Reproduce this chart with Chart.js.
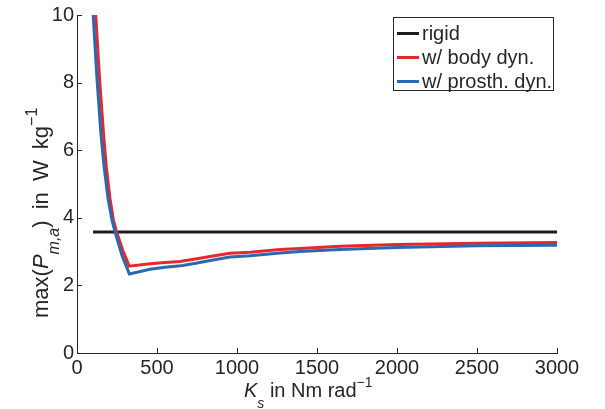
<!DOCTYPE html>
<html><head><meta charset="utf-8">
<script src="https://cdn.jsdelivr.net/npm/chart.js@4"></script>
<style>
html,body{margin:0;padding:0;background:#fff;}
#wrap{position:relative;width:605px;height:409px;overflow:hidden;font-family:'Liberation Sans',Arial,sans-serif;color:#262626;}
canvas{position:absolute;left:0;top:0;}
.t{position:absolute;white-space:nowrap;font-size:20px;line-height:20px;}
.sub,.sup{position:relative;font-size:14px;}
.legend{position:absolute;left:393px;top:17px;width:161px;height:74px;border:1px solid #262626;box-sizing:border-box;background:#fff;}
.row{position:absolute;left:0;height:20px;line-height:20px;font-size:20px;white-space:nowrap;}
.sw{position:absolute;left:3px;top:9px;width:22px;height:3px;}
.lbl{position:absolute;left:28px;top:0;}
</style></head>
<body>
<div id="wrap">
<canvas id="c" width="605" height="409"></canvas>
<div class="t" id="yt" style="left:30px;top:318px;font-size:22px;line-height:22px;word-spacing:5px;transform-origin:0 0;transform:rotate(-90deg);">max(<i>P</i><span class="sub" style="top:11px;font-size:16px;word-spacing:0"><i>m,a</i></span>) in W kg<span class="sup" style="top:-11px;font-size:16px">&#8722;1</span></div>
<div class="t" id="xt" style="left:244px;top:380px;"><i>K</i><span class="sub" style="top:11px"><i>s</i></span> in Nm rad<span class="sup" style="top:-10px">&#8722;1</span></div>
<div class="legend" id="lg"></div>
</div>
<script>
// ---- data ----
const seriesNames = ['rigid', 'w/ body dyn.', 'w/ prosth. dyn.'];
const seriesColors = ['#1c1c1c', '#e5282d', '#2b68ae'];

const K_rigid = [100, 3000];
const P_rigid = [3.58, 3.58];

const K_body = [100, 117, 141, 166, 183, 206, 228, 250, 288, 327, 456, 550, 644, 660, 750, 850, 956, 1081, 1269, 1394, 1644, 2000, 2500, 3000];
const P_body = [11.3, 10.0, 8.11, 6.46, 5.52, 4.57, 3.92, 3.54, 3.01, 2.57, 2.64, 2.68, 2.71, 2.72, 2.79, 2.87, 2.95, 2.98, 3.06, 3.09, 3.16, 3.21, 3.25, 3.27];

const K_prosth = [100, 125, 150, 169, 194, 219, 244, 281, 327, 456, 550, 644, 660, 750, 850, 956, 1081, 1269, 1394, 1644, 2000, 2500, 3000];
const P_prosth = [10.1, 8.11, 6.46, 5.52, 4.57, 3.92, 3.48, 2.89, 2.34, 2.48, 2.54, 2.58, 2.59, 2.66, 2.75, 2.84, 2.88, 2.96, 3.0, 3.06, 3.12, 3.17, 3.19];

const xTicks = [0, 500, 1000, 1500, 2000, 2500, 3000];
const xTickLabels = ['0', '500', '1000', '1500', '2000', '2500', '3000'];
const yTicks = [0, 2, 4, 6, 8, 10];
const yTickLabels = ['0', '2', '4', '6', '8', '10'];

// ---- chart ----
const FONT = "'Liberation Sans', Arial, sans-serif";
const AXIS = '#262626';
const pts = (xs, ys) => xs.map((x, i) => ({x: x, y: ys[i]}));

const inwardTicks = {
  id: 'inwardTicks',
  afterDraw(c) {
    const ctx = c.ctx, a = c.chartArea, xs = c.scales.x, ys = c.scales.y;
    ctx.save();
    ctx.strokeStyle = AXIS; ctx.lineWidth = 1;
    ctx.beginPath();
    xs.ticks.forEach(t => {
      const px = Math.round(xs.getPixelForValue(t.value)) + 0.5;
      ctx.moveTo(px, a.bottom); ctx.lineTo(px, a.bottom - 5);
    });
    ys.ticks.forEach(t => {
      const py = Math.round(ys.getPixelForValue(t.value)) + 0.5;
      ctx.moveTo(a.left, py); ctx.lineTo(a.left + 5, py);
    });
    ctx.stroke();
    ctx.restore();
  }
};

const lineDs = (i, data, order) => ({
  label: seriesNames[i], data: data, borderColor: seriesColors[i], backgroundColor: seriesColors[i],
  borderWidth: 3, pointRadius: 0, tension: 0, fill: false, order: order,
  clip: {left: 5, right: 5, top: 0, bottom: 5}
});

new Chart(document.getElementById('c'), {
  type: 'line',
  data: {
    datasets: [
      lineDs(0, pts(K_rigid, P_rigid), 2),
      lineDs(1, pts(K_body, P_body), 1),
      lineDs(2, pts(K_prosth, P_prosth), 0)
    ]
  },
  options: {
    responsive: false, animation: false, devicePixelRatio: 1,
    layout: {padding: {left: 0, top: 14, right: 48, bottom: 0}},
    plugins: {legend: {display: false}, tooltip: {enabled: false}},
    scales: {
      x: {
        type: 'linear', min: 0, max: 3000,
        afterBuildTicks(s) { s.ticks = xTicks.map(v => ({value: v})); },
        ticks: {color: AXIS, font: {family: FONT, size: 20}, padding: 3, maxRotation: 0, autoSkip: false,
          callback: v => xTickLabels[xTicks.indexOf(v)]},
        grid: {drawOnChartArea: false, drawTicks: false},
        border: {color: AXIS, width: 1},
        afterFit(s) { s.height = 56; }
      },
      y: {
        type: 'linear', min: 0, max: 10,
        afterBuildTicks(s) { s.ticks = yTicks.map(v => ({value: v})); },
        ticks: {color: AXIS, font: {family: FONT, size: 20}, padding: 3, autoSkip: false,
          callback: v => yTickLabels[yTicks.indexOf(v)]},
        grid: {drawOnChartArea: false, drawTicks: false},
        border: {color: AXIS, width: 1},
        afterFit(s) { s.width = 77; }
      }
    }
  },
  plugins: [inwardTicks]
});

// ---- legend (HTML, from series arrays) ----
const lg = document.getElementById('lg');
const rowTops = [5, 29, 53];
seriesNames.forEach((n, i) => {
  const r = document.createElement('div');
  r.className = 'row'; r.style.top = rowTops[i] + 'px';
  const sw = document.createElement('div'); sw.className = 'sw'; sw.style.background = seriesColors[i];
  const l = document.createElement('div'); l.className = 'lbl'; l.textContent = n;
  r.appendChild(sw); r.appendChild(l); lg.appendChild(r);
});
</script>
</body></html>
